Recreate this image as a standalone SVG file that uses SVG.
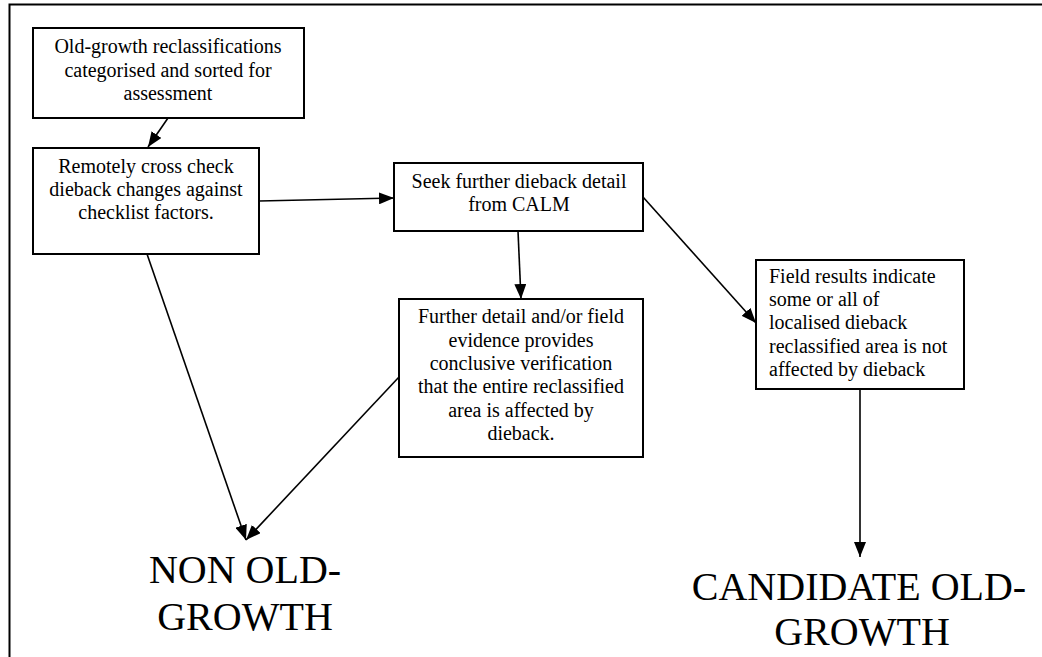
<svg xmlns="http://www.w3.org/2000/svg" width="1042" height="657" viewBox="0 0 1042 657">
<style>
.box{fill:#fff;stroke:#000;stroke-width:2}
.t{font-family:'Liberation Serif','Times New Roman',Times,'DejaVu Serif',serif;font-size:20px;fill:#000}
.c{text-anchor:middle}
.big{font-family:'Liberation Serif','Times New Roman',Times,'DejaVu Serif',serif;font-size:40px;fill:#000;text-anchor:middle}
.con{stroke:#000;stroke-width:1.6;fill:none;marker-end:url(#ah)}
</style>
<defs>
<marker id="ah" markerUnits="userSpaceOnUse" markerWidth="16" markerHeight="12" refX="15" refY="6" orient="auto">
<path d="M0,0 L15,6 L0,12 Z" fill="#000"/>
</marker>
</defs>
<rect width="1042" height="657" fill="#fff"/>
<g id="frame">
<path d="M9.5,657 V4.5 H1042" fill="none" stroke="#000" stroke-width="2"/>
</g>
<g id="connectors">
<line class="con" x1="168" y1="118" x2="148" y2="147"/>
<line class="con" x1="259" y1="201" x2="394" y2="198"/>
<line class="con" x1="518" y1="231" x2="521" y2="299"/>
<line class="con" x1="643" y1="197" x2="756" y2="323"/>
<line class="con" x1="147" y1="254" x2="246" y2="540"/>
<line class="con" x1="399" y1="377" x2="246" y2="540"/>
<line class="con" x1="860" y1="389" x2="860" y2="557"/>
</g>
<g id="n1">
<rect class="box" x="33" y="28" width="271" height="90"/>
<text class="t c" x="168" y="53" font-family="Liberation Serif, serif">Old-growth reclassifications</text>
<text class="t c" x="168" y="77">categorised and sorted for</text>
<text class="t c" x="168" y="100">assessment</text>
</g>
<g id="n2">
<rect class="box" x="33" y="148" width="226" height="106"/>
<text class="t c" x="146" y="173">Remotely cross check</text>
<text class="t c" x="146" y="196">dieback changes against</text>
<text class="t c" x="146" y="219">checklist factors.</text>
</g>
<g id="n3">
<rect class="box" x="394" y="163" width="249" height="68"/>
<text class="t c" x="519" y="188">Seek further dieback detail</text>
<text class="t c" x="519" y="211">from CALM</text>
</g>
<g id="n4">
<rect class="box" x="399" y="299" width="244" height="158"/>
<text class="t c" x="521" y="323">Further detail and/or field</text>
<text class="t c" x="521" y="347">evidence provides</text>
<text class="t c" x="521" y="370">conclusive verification</text>
<text class="t c" x="521" y="393">that the entire reclassified</text>
<text class="t c" x="521" y="417">area is affected by</text>
<text class="t c" x="521" y="440">dieback.</text>
</g>
<g id="n5">
<rect class="box" x="756" y="260" width="208" height="129"/>
<text class="t" x="769" y="283">Field results indicate</text>
<text class="t" x="769" y="306">some or all of</text>
<text class="t" x="769" y="329">localised dieback</text>
<text class="t" x="769" y="353">reclassified area is not</text>
<text class="t" x="769" y="376">affected by dieback</text>
</g>
<g id="n6">
<text class="big" x="245" y="583">NON OLD-</text>
<text class="big" x="245" y="630">GROWTH</text>
</g>
<g id="n7">
<text class="big" x="859" y="600">CANDIDATE OLD-</text>
<text class="big" x="862" y="645">GROWTH</text>
</g>
</svg>
